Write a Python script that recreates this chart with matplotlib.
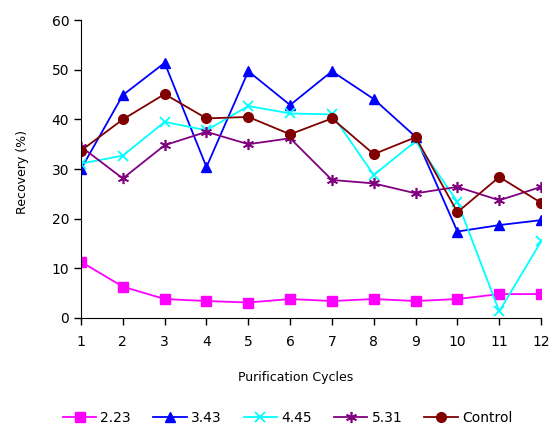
import numpy as np
import matplotlib.pyplot as plt

cycles = np.arange(1, 13)

s223 = [11.3, 6.3, 3.8, 3.4, 3.1, 3.8, 3.4, 3.8, 3.4, 3.8, 4.8, 4.8]
s343 = [30.0, 44.9, 51.4, 30.4, 49.7, 42.9, 49.7, 44.1, 36.5, 17.4, 18.7, 19.7]
s445 = [31.1, 32.7, 39.5, 37.8, 42.7, 41.2, 41.0, 28.8, 35.6, 23.4, 1.3, 15.4]
s531 = [34.5, 28.1, 34.8, 37.5, 35.0, 36.2, 27.8, 27.1, 25.1, 26.4, 23.7, 26.4]
control = [33.7, 40.0, 45.1, 40.2, 40.5, 37.0, 40.2, 33.0, 36.4, 21.3, 28.4, 23.2]

plt.rcParams['font.family'] = ['DejaVu Sans']
plt.rcParams['font.size'] = 9

fig = plt.figure(figsize=(5.51, 4.29), dpi=100)
ax = fig.add_axes([0.147, 0.259, 0.835, 0.694])

ax.plot(cycles, s223, color='#FF00FF', marker='s', ms=7, lw=1.3, label='2.23')
ax.plot(cycles, s343, color='#0000FF', marker='^', ms=7, lw=1.3, label='3.43')
ax.plot(cycles, s445, color='#00FFFF', marker='x', ms=7, mew=1.3, lw=1.3, label='4.45')
ax.plot(cycles, s531, color='#800080', marker=(6, 2, 0), ms=8, mew=1.2, lw=1.3, label='5.31')
ax.plot(cycles, control, color='#800000', marker='o', ms=7, lw=1.3, label='Control')

ax.set_xlim(1, 12)
ax.set_ylim(0, 60)
ax.set_xticks(cycles)
ax.set_yticks(np.arange(0, 61, 10))
ax.spines['top'].set_visible(False)
ax.spines['right'].set_visible(False)
ax.tick_params(direction='out', length=5, width=1)
ax.tick_params(axis='x', pad=7)
ax.set_xlabel('Purification Cycles')
ax.xaxis.set_label_coords(0.467, -0.18)
ax.set_ylabel('Recovery (%)')
ax.yaxis.set_label_coords(-0.112, 0.49)
for lab in ax.get_xticklabels() + ax.get_yticklabels():
    lab.set_fontsize(10)

fig.legend(loc='center', bbox_to_anchor=(0.522, 0.025), ncol=5, frameon=False,
           handlelength=2.4, handletextpad=0.3, columnspacing=1.6, fontsize=10,
           borderpad=0)

fig.savefig('out.png', dpi=100)
